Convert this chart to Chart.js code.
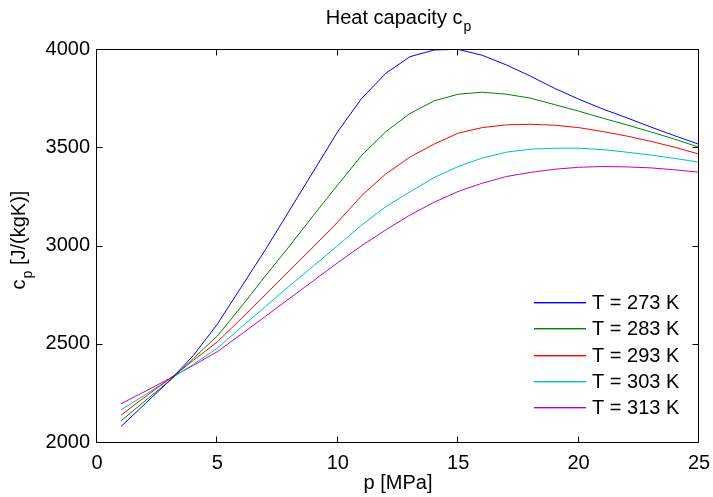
<!DOCTYPE html>
<html>
<head>
<meta charset="utf-8">
<script src="https://cdn.jsdelivr.net/npm/chart.js@4.4.1/dist/chart.umd.min.js"></script>
<style>
html,body{margin:0;padding:0;background:#ffffff;}
canvas{display:block;}
</style>
</head>
<body>
<canvas id="chart" width="713" height="497"></canvas>
<script>
// ---- data ----
const pressure = [1,2,3,4,5,6,7,8,9,10,11,12,13,14,15,16,17,18,19,20,21,22,23,24,25];
const cp273 = [2079,2195,2310,2440,2600,2790,2980,3180,3380,3580,3750,3877,3961,3995,3998,3968,3919,3862,3800,3745,3695,3650,3603,3558,3515];
const cp283 = [2108,2210,2310,2425,2540,2690,2846,2998,3155,3309,3460,3580,3672,3736,3770,3780,3770,3750,3717,3684,3648,3614,3578,3541,3500];
const cp293 = [2137,2230,2320,2415,2510,2629,2751,2873,2995,3120,3255,3365,3450,3516,3572,3600,3614,3617,3612,3600,3580,3557,3530,3500,3465];
const cp303 = [2164,2240,2318,2395,2478,2585,2690,2795,2897,3000,3105,3198,3273,3346,3402,3445,3475,3490,3495,3495,3488,3475,3460,3443,3424];
const cp313 = [2195,2258,2322,2390,2460,2549,2640,2731,2822,2913,3000,3080,3155,3220,3275,3317,3351,3372,3388,3398,3402,3400,3395,3385,3373];
const seriesLabels = ['T = 273 K','T = 283 K','T = 293 K','T = 303 K','T = 313 K'];
const seriesValues = [cp273, cp283, cp293, cp303, cp313];
const xTickValues = [0,5,10,15,20,25];
const yTickValues = [2000,2500,3000,3500,4000];
const titleMain = 'Heat capacity c';
const titleSub = 'p';
const xTitle = 'p [MPa]';
const yTitleMain = 'c';
const yTitleSub = 'p';
const yTitleRest = ' [J/(kgK)]';

// ---- styles ----
const colors = ['#0000ff','#008000','#ff0000','#00bfbf','#bf00bf'];
const FONT = '"Liberation Sans", Arial, Helvetica, sans-serif';

const datasets = seriesValues.map((vals, i) => ({
  label: seriesLabels[i],
  data: pressure.map((p, j) => ({x: p, y: vals[j]})),
  borderColor: colors[i],
  backgroundColor: colors[i],
  borderWidth: 1,
  pointRadius: 0,
  tension: 0,
  fill: false
}));

const decor = {
  id: 'decor',
  afterDraw(chart) {
    const ctx = chart.ctx;
    const a = chart.chartArea;
    const xs = chart.scales.x, ys = chart.scales.y;
    ctx.save();
    ctx.strokeStyle = '#000';
    ctx.lineWidth = 1;
    const L = Math.round(a.left) - 0.5, R = Math.round(a.right) - 0.5;
    const T = Math.round(a.top) + 0.5, B = Math.round(a.bottom) + 0.5;
    ctx.strokeRect(L, T, R - L, B - T);
    ctx.beginPath();
    const tl = 6;
    xs.ticks.forEach(t => {
      const px = Math.round(xs.getPixelForValue(t.value)) - 0.5;
      ctx.moveTo(px, B); ctx.lineTo(px, B - tl);
      ctx.moveTo(px, T); ctx.lineTo(px, T + tl);
    });
    ys.ticks.forEach(t => {
      const py = Math.round(ys.getPixelForValue(t.value)) + 0.5;
      ctx.moveTo(L, py); ctx.lineTo(L + tl, py);
      ctx.moveTo(R, py); ctx.lineTo(R - tl, py);
    });
    ctx.stroke();

    // legend (inside, bottom right)
    ctx.textBaseline = 'middle';
    ctx.textAlign = 'left';
    ctx.font = '20px ' + FONT;
    chart.data.datasets.forEach((ds, i) => {
      const yy = Math.round(a.top + 253 + i * 26.3);
      ctx.fillStyle = colors[i];
      ctx.fillRect(Math.round(a.right - 165), yy, 52, 1);
      ctx.globalAlpha = 0.4;
      ctx.fillRect(Math.round(a.right - 165), yy + 1, 52, 1);
      ctx.globalAlpha = 1;
      ctx.fillStyle = '#000';
      ctx.fillText(ds.label, a.right - 107, yy + 1);
    });

    // title with subscript
    ctx.fillStyle = '#000';
    ctx.textBaseline = 'alphabetic';
    const cx = (a.left + a.right) / 2;
    ctx.font = '20px ' + FONT;
    const w1 = ctx.measureText(titleMain).width;
    ctx.font = '14px ' + FONT;
    const w2 = ctx.measureText(titleSub).width;
    let sx = cx - (w1 + w2) / 2;
    ctx.font = '20px ' + FONT;
    ctx.fillText(titleMain, sx, 24);
    ctx.font = '14px ' + FONT;
    ctx.fillText(titleSub, sx + w1 + 1, 31);

    // x axis title
    ctx.font = '20px ' + FONT;
    ctx.textAlign = 'center';
    ctx.fillText(xTitle, cx, 489);

    // y axis title (rotated) with subscript
    ctx.textAlign = 'left';
    ctx.font = '20px ' + FONT;
    const a1 = ctx.measureText(yTitleMain).width;
    const a3 = ctx.measureText(yTitleRest).width;
    ctx.font = '14px ' + FONT;
    const a2 = ctx.measureText(yTitleSub).width;
    const total = a1 + a2 + a3 + 1;
    ctx.translate(25, 240);
    ctx.rotate(-Math.PI / 2);
    let tx = -total / 2;
    ctx.font = '20px ' + FONT;
    ctx.fillText(yTitleMain, tx, 0);
    ctx.font = '14px ' + FONT;
    ctx.fillText(yTitleSub, tx + a1 + 1, 7);
    ctx.font = '20px ' + FONT;
    ctx.fillText(yTitleRest, tx + a1 + a2 + 1, 0);
    ctx.restore();
  }
};

new Chart(document.getElementById('chart'), {
  type: 'line',
  data: { datasets },
  options: {
    responsive: false,
    animation: false,
    devicePixelRatio: 1,
    layout: { padding: { top: 49, right: 14, left: 0, bottom: 0 } },
    plugins: { legend: { display: false }, title: { display: false }, tooltip: { enabled: false } },
    scales: {
      x: {
        type: 'linear',
        min: 0, max: 25,
        afterFit: s => { s.height = 55; s.paddingLeft = 0; s.paddingRight = 0; },
        afterBuildTicks: s => { s.ticks = xTickValues.map(v => ({value: v})); },
        grid: { display: false, drawTicks: false },
        border: { display: false },
        ticks: { color: '#000', font: { family: FONT, size: 20 }, padding: 9, maxRotation: 0, autoSkip: false,
                 callback: v => String(v) }
      },
      y: {
        type: 'linear',
        min: 2000, max: 4000,
        afterFit: s => { s.width = 97; s.paddingTop = 0; s.paddingBottom = 0; },
        afterBuildTicks: s => { s.ticks = yTickValues.map(v => ({value: v})); },
        grid: { display: false, drawTicks: false },
        border: { display: false },
        ticks: { color: '#000', font: { family: FONT, size: 20 }, padding: 7, autoSkip: false,
                 callback: v => String(v) }
      }
    }
  },
  plugins: [decor]
});
</script>
</body>
</html>
